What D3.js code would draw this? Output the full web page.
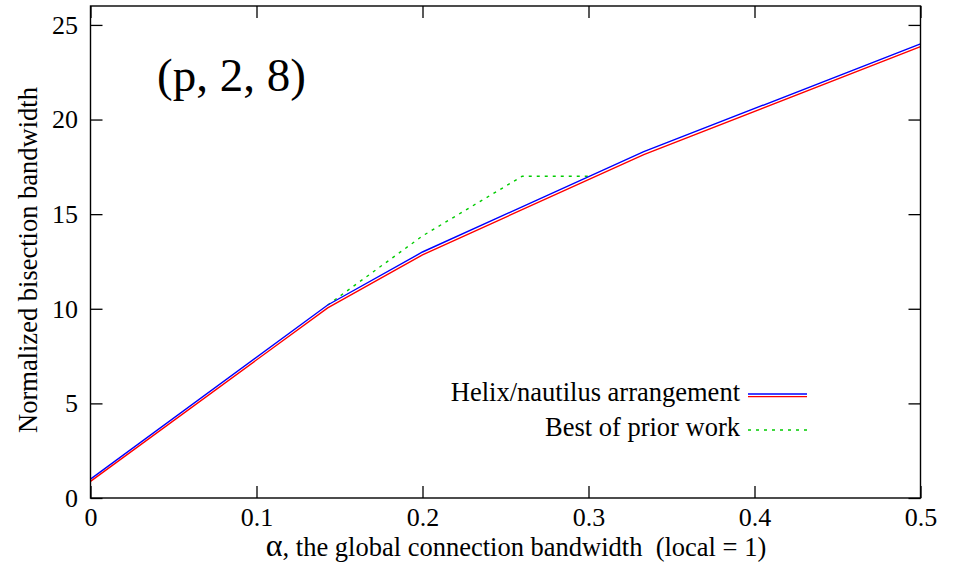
<!DOCTYPE html>
<html><head><meta charset="utf-8">
<script src="https://cdn.jsdelivr.net/npm/d3@7"></script>
<style>
body{margin:0;background:#fff;}
text{font-family:"Liberation Serif","Times New Roman",serif;fill:#000;}
</style></head><body>
<svg id="c" width="962" height="563"></svg>
<script>
// ---- data ----
const helixAlpha = [0, 0.1429, 0.2, 0.3333, 0.5];
const helixUpper = [1.0, 10.2, 13.0, 18.3, 24.0];   // blue
const helixLower = [0.88, 10.05, 12.85, 18.15, 23.85]; // red
const priorAlpha = [0.1429, 0.2, 0.26, 0.3];
const priorValues = [10.2, 13.85, 17.0, 17.0];
const xTicks = [0, 0.1, 0.2, 0.3, 0.4, 0.5];
const xTickLabels = ["0", "0.1", "0.2", "0.3", "0.4", "0.5"];
const yTicks = [0, 5, 10, 15, 20, 25];
const yTickLabels = ["0", "5", "10", "15", "20", "25"];
const legendLabels = ["Helix/nautilus arrangement", "Best of prior work"];
const titleText = "(p, 2, 8)";
const xLabelRest = ", the global connection bandwidth\u00A0\u00A0(local = 1)";
const yLabelText = "Normalized bisection bandwidth";

// ---- layout ----
const L = 90.5, R = 920.5, T = 6, B = 498;
const x = d3.scaleLinear().domain([0, 0.5]).range([L, R]);
const y = d3.scaleLinear().domain([0, 26]).range([B, T]);
const svg = d3.select("#c");
const FONT = '"Liberation Serif","Times New Roman",serif';

svg.append("clipPath").attr("id","clip").append("rect")
  .attr("x",L).attr("y",T).attr("width",R-L).attr("height",B-T);

const line = d3.line().x(d=>x(d[0])).y(d=>y(d[1]));
const g = svg.append("g").attr("clip-path","url(#clip)");
g.append("path").datum(priorAlpha.map((a,i)=>[a,priorValues[i]]))
  .attr("d",line).attr("fill","none").attr("stroke","#00cc00")
  .attr("stroke-width",1.4).attr("stroke-dasharray","3,5");
g.append("path").datum(helixAlpha.map((a,i)=>[a,helixLower[i]]))
  .attr("d",line).attr("fill","none").attr("stroke","#ff0000").attr("stroke-width",1.4);
g.append("path").datum(helixAlpha.map((a,i)=>[a,helixUpper[i]]))
  .attr("d",line).attr("fill","none").attr("stroke","#0000ff").attr("stroke-width",1.4);

// axes (inward ticks, mirrored)
const tk = 12;
const axB = d3.axisBottom(x).tickValues(xTicks).tickSizeInner(-tk).tickSizeOuter(0).tickFormat((d,i)=>xTickLabels[i]).tickPadding(10);
const axT = d3.axisTop(x).tickValues(xTicks).tickSizeInner(-tk).tickSizeOuter(0).tickFormat("");
const axL = d3.axisLeft(y).tickValues(yTicks).tickSizeInner(-tk).tickSizeOuter(0).tickFormat((d,i)=>yTickLabels[i]).tickPadding(12.5);
const axR = d3.axisRight(y).tickValues(yTicks).tickSizeInner(-tk).tickSizeOuter(0).tickFormat("");
function style(sel){
  sel.attr("font-family",FONT).attr("font-size",26);
  sel.select(".domain").remove();
  sel.selectAll("line").attr("stroke","#000").attr("stroke-width",1.3);
  sel.selectAll("text").style("font-family",FONT).style("font-size","26px").attr("fill","#000");
}
svg.append("g").attr("transform",`translate(0,${B})`).call(axB).call(style);
svg.append("g").attr("transform",`translate(0,${T})`).call(axT).call(style);
svg.append("g").attr("transform",`translate(${L},0)`).call(axL).call(style);
svg.append("g").attr("transform",`translate(${R},0)`).call(axR).call(style);

svg.append("rect").attr("x",L).attr("y",T).attr("width",R-L).attr("height",B-T)
  .attr("fill","none").attr("stroke","#000").attr("stroke-width",1.4);

// title inside plot
svg.append("text").attr("x",157).attr("y",91).style("font-size","47px").text(titleText);

// x label
const xl = svg.append("text").attr("x",516).attr("y",556).attr("text-anchor","middle").style("font-size","26.5px");
xl.append("tspan").style("font-size","32px").text("α");
xl.append("tspan").text(xLabelRest);

// y label
svg.append("text").attr("transform","translate(37,260) rotate(-90)").attr("text-anchor","middle")
  .style("font-size","26.5px").text(yLabelText);

// legend
const lx1 = 748, lx2 = 807;
svg.append("text").attr("x",740).attr("y",401).attr("text-anchor","end").style("font-size","26.5px").text(legendLabels[0]);
svg.append("line").attr("x1",lx1).attr("x2",lx2).attr("y1",394).attr("y2",394).attr("stroke","#0000ff").attr("stroke-width",1.4);
svg.append("line").attr("x1",lx1).attr("x2",lx2).attr("y1",396.6).attr("y2",396.6).attr("stroke","#ff0000").attr("stroke-width",1.4);
svg.append("text").attr("x",740).attr("y",436).attr("text-anchor","end").style("font-size","26.5px").text(legendLabels[1]);
svg.append("line").attr("x1",lx1).attr("x2",lx2).attr("y1",430).attr("y2",430).attr("stroke","#00cc00").attr("stroke-width",1.4).attr("stroke-dasharray","3,5");
</script>
</body></html>
